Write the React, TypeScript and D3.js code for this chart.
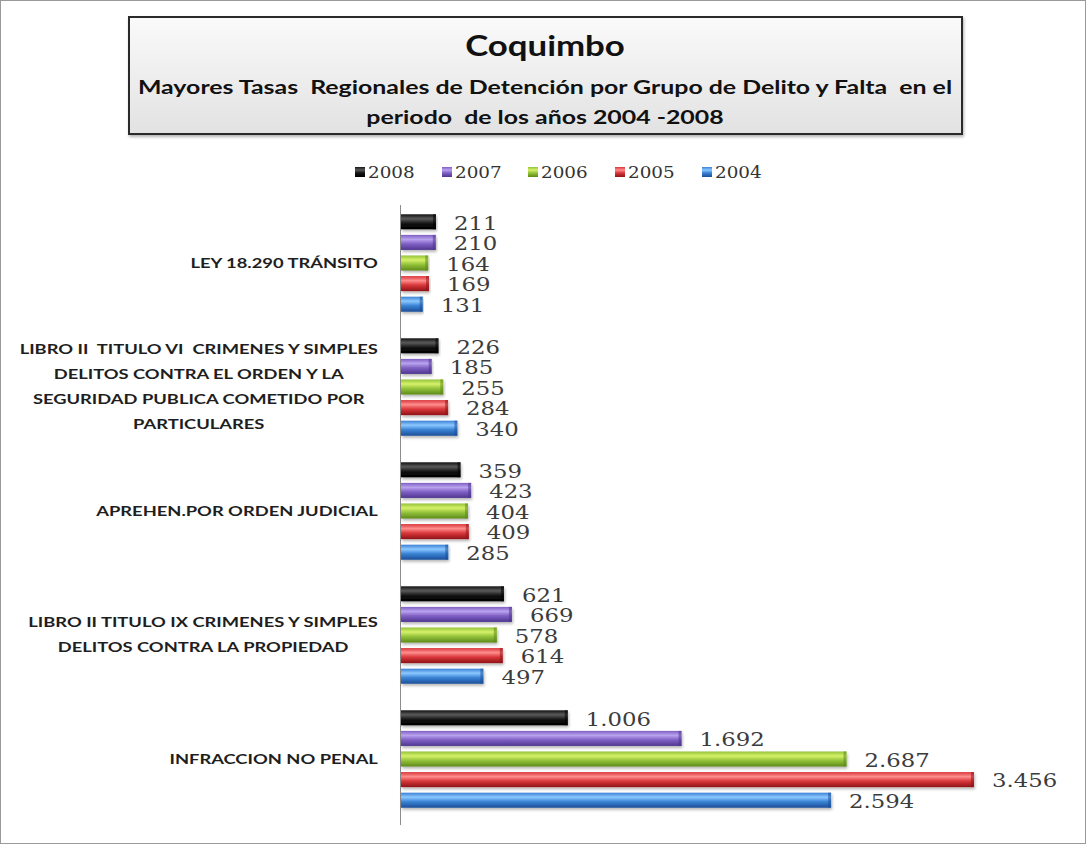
import * as React from "react";
import * as d3 from "d3";

// category labels (already wrapped as in the original chart), top to bottom
const categories: string[][] = [
  ["LEY 18.290 TRÁNSITO"],
  [
    "LIBRO II  TITULO VI  CRIMENES Y SIMPLES",
    "DELITOS CONTRA EL ORDEN Y LA",
    "SEGURIDAD PUBLICA COMETIDO POR",
    "PARTICULARES",
  ],
  ["APREHEN.POR ORDEN JUDICIAL"],
  ["LIBRO II TITULO IX CRIMENES Y SIMPLES", "DELITOS CONTRA LA PROPIEDAD"],
  ["INFRACCION NO PENAL"],
];

const years = ["2008", "2007", "2006", "2005", "2004"];
const values2008 = [211, 226, 359, 621, 1006];
const values2007 = [210, 185, 423, 669, 1692];
const values2006 = [164, 255, 404, 578, 2687];
const values2005 = [169, 284, 409, 614, 3456];
const values2004 = [131, 340, 285, 497, 2594];
const seriesValues = [values2008, values2007, values2006, values2005, values2004];

// light / base / dark shades for the "cylinder" look
const seriesColors = [
  { light: "#5a5a5a", base: "#141414", dark: "#000000" },
  { light: "#b9a2ee", base: "#7f5fc4", dark: "#4e3590" },
  { light: "#d6f26a", base: "#93c23a", dark: "#5d8a1a" },
  { light: "#ff8d8d", base: "#d8363a", dark: "#8f1417" },
  { light: "#8cc8ff", base: "#3a82d4", dark: "#1b4f99" },
];

const W = 1086;
const H = 844;
const AXIS_X = 401;
const PLOT_TOP = 201;
const PLOT_BOTTOM = 821;
// the original is a bit stretched sideways; squeeze fonts the same way
const SANS = "Lato, 'Open Sans', sans-serif";
const SERIF = "'DejaVu Serif', serif";
const SX_SANS = 1.31;
const SX_SERIF = 1.2;

const fmt = d3
  .formatLocale({ decimal: ",", thousands: ".", grouping: [3], currency: ["", ""] })
  .format(",d");

function CategoryLabel({ lines, cy }: { lines: string[]; cy: number }) {
  const ref = React.useRef<SVGGElement>(null);
  const lineH = 25;
  React.useLayoutEffect(() => {
    const g = ref.current;
    if (!g) return;
    let maxW = 0;
    d3.select(g)
      .selectAll<SVGTextElement, unknown>("text")
      .each(function () {
        maxW = Math.max(maxW, this.getComputedTextLength());
      });
    d3.select(g).attr(
      "transform",
      `translate(${378 - (maxW * SX_SANS) / 2},${cy}) scale(${SX_SANS},1)`,
    );
  }, [cy]);
  const y0 = -((lines.length - 1) * lineH) / 2;
  return (
    <g ref={ref} transform={`translate(200,${cy})`}>
      {lines.map((l, i) => (
        <text
          key={i}
          x={0}
          y={y0 + i * lineH}
          dy="0.35em"
          textAnchor="middle"
          style={{ whiteSpace: "pre" }}
          fontFamily={SANS}
          fontWeight={700}
          fontSize={14}
          fill="#1e1e1e"
        >
          {l}
        </text>
      ))}
    </g>
  );
}

export default function App() {
  const x = d3.scaleLinear().domain([0, 3500]).range([AXIS_X, AXIS_X + 580.3]);
  const yGroup = d3
    .scaleBand<number>()
    .domain(d3.range(categories.length))
    .range([PLOT_TOP, PLOT_BOTTOM]);
  const ySeries = d3
    .scaleBand<string>()
    .domain(years)
    .range([10.5, yGroup.bandwidth() - 10.5])
    .paddingInner(0.27)
    .paddingOuter(0.135);

  const legendX = [355, 442, 528, 615, 702];

  return (
    <div style={{ position: "absolute", left: 0, top: 0 }}>
      <svg width={W} height={H} style={{ display: "block", background: "#fff" }}>
        <defs>
          {seriesColors.map((c, i) => (
            <linearGradient key={i} id={`bar${i}`} x1="0" y1="0" x2="0" y2="1">
              <stop offset="0" stopColor={c.base} />
              <stop offset="0.3" stopColor={c.light} />
              <stop offset="0.6" stopColor={c.base} />
              <stop offset="1" stopColor={c.dark} />
            </linearGradient>
          ))}
          <linearGradient id="titleFill" x1="0" y1="0" x2="0" y2="1">
            <stop offset="0" stopColor="#fafafa" />
            <stop offset="1" stopColor="#e2e2e2" />
          </linearGradient>
          <filter id="shadow" x="-5%" y="-30%" width="110%" height="180%">
            <feGaussianBlur in="SourceAlpha" stdDeviation="1.5" />
            <feOffset dx="1" dy="2" />
            <feComponentTransfer>
              <feFuncA type="linear" slope="0.3" />
            </feComponentTransfer>
            <feMerge>
              <feMergeNode />
              <feMergeNode in="SourceGraphic" />
            </feMerge>
          </filter>
        </defs>

        {/* outer frame */}
        <rect x={0.5} y={0.5} width={W - 1} height={H - 1} fill="#fff" stroke="#9a9a9a" />

        {/* title box */}
        <rect
          x={129}
          y={17}
          width={833}
          height={117}
          fill="url(#titleFill)"
          stroke="#2b2b2b"
          strokeWidth={2}
          filter="url(#shadow)"
        />
        <g transform="translate(545,56) scale(1.2,1)">
          <text textAnchor="middle" fontFamily={SANS} fontWeight={700} fontSize={29} fill="#111">
            Coquimbo
          </text>
        </g>
        <g transform={`translate(545,94) scale(${SX_SANS},1)`}>
          <text
            textAnchor="middle"
            style={{ whiteSpace: "pre" }}
            fontFamily={SANS}
            fontWeight={700}
            fontSize={19}
            fill="#111"
          >
            {"Mayores Tasas  Regionales de Detención por Grupo de Delito y Falta  en el"}
          </text>
        </g>
        <g transform={`translate(545,124) scale(${SX_SANS},1)`}>
          <text
            textAnchor="middle"
            style={{ whiteSpace: "pre" }}
            fontFamily={SANS}
            fontWeight={700}
            fontSize={19}
            fill="#111"
          >
            {"periodo  de los años 2004 -2008"}
          </text>
        </g>

        {/* legend */}
        {years.map((yr, i) => (
          <g key={yr} transform={`translate(${legendX[i]},172)`}>
            <rect x={0} y={-5} width={10} height={10} fill={`url(#bar${i})`} />
            <text
              x={12}
              dy="0.36em"
              fontFamily={SERIF}
              fontSize={17}
              transform={`scale(1.08,1)`}
              fill="#333"
            >
              {yr}
            </text>
          </g>
        ))}

        {/* axis */}
        <line x1={AXIS_X - 0.5} x2={AXIS_X - 0.5} y1={PLOT_TOP + 4} y2={PLOT_BOTTOM + 4} stroke="#8c8c8c" />

        {/* bars */}
        {categories.map((lines, ci) => {
          const gy = yGroup(ci)!;
          return (
            <g key={ci}>
              <CategoryLabel lines={lines} cy={gy + yGroup.bandwidth() / 2} />
              {years.map((yr, si) => {
                const v = seriesValues[si][ci];
                const by = gy + ySeries(yr)!;
                const bw = x(v) - AXIS_X;
                const bh = ySeries.bandwidth();
                const c = seriesColors[si];
                return (
                  <g key={yr}>
                    <rect
                      x={AXIS_X}
                      y={by}
                      width={bw}
                      height={bh}
                      fill={`url(#bar${si})`}
                      filter="url(#shadow)"
                    />
                    <rect
                      x={AXIS_X + bw - 3}
                      y={by}
                      width={3}
                      height={bh}
                      fill={c.dark}
                      opacity={0.55}
                    />
                    <g transform={`translate(${x(v) + 18},${by + bh / 2 + 1}) scale(${SX_SERIF},1)`}>
                      <text dy="0.36em" fontFamily={SERIF} fontSize={19} fill="#3c3c3c">
                        {fmt(v)}
                      </text>
                    </g>
                  </g>
                );
              })}
            </g>
          );
        })}
      </svg>
    </div>
  );
}
